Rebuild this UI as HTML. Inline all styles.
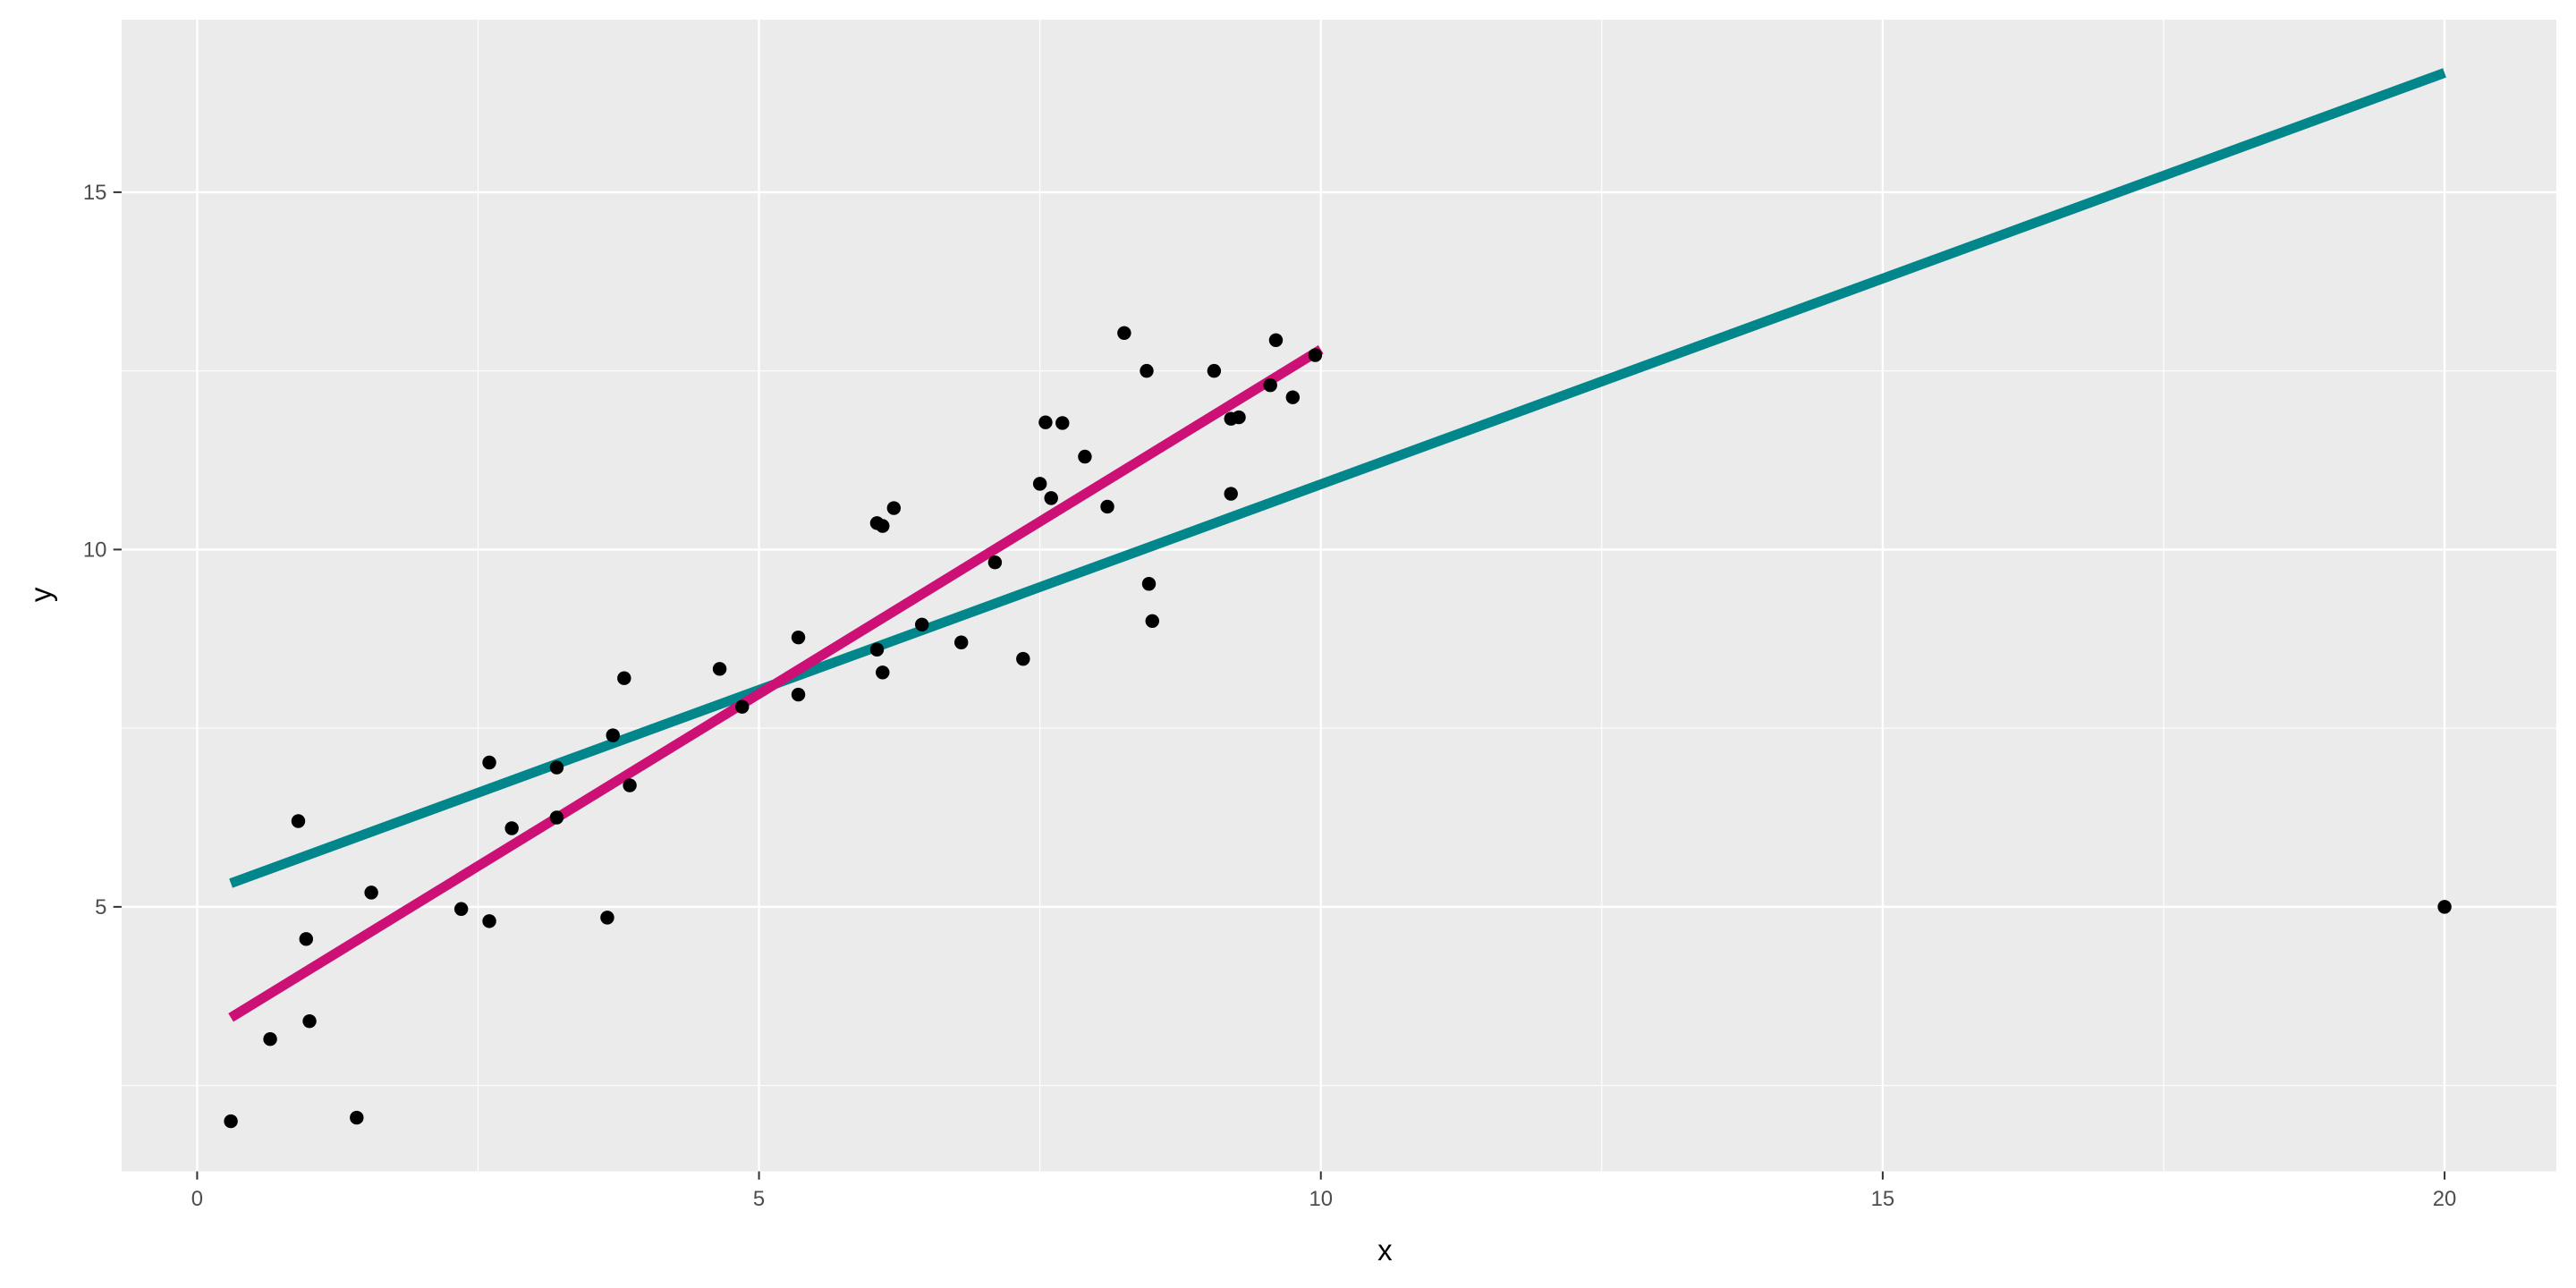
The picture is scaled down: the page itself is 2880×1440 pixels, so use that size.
<!DOCTYPE html>
<html><head><meta charset="utf-8"><style>
html,body{margin:0;padding:0;background:#fff}
svg{display:block}
text{font-family:"Liberation Sans",sans-serif}
</style></head><body>
<svg id="chart" width="2880" height="1440" viewBox="0 0 1568 784" xmlns="http://www.w3.org/2000/svg">
<rect x="74" y="12" width="1482" height="701" fill="#ebebeb"/>
<g id="grid"></g><g id="lines"></g><g id="pts"></g><g id="axes"></g>
<text x="843" y="767" font-size="18" fill="#000" text-anchor="middle">x</text>
<text x="31" y="362" font-size="18" fill="#000" text-anchor="middle" transform="rotate(-90 31 362)">y</text>
</svg>
<script>
const xs=[0.3,0.65,0.9,0.97,1.0,1.42,1.55,2.35,2.6,2.6,2.8,3.2,3.2,3.65,3.7,3.8,3.85,4.65,4.85,5.35,5.35,6.05,6.05,6.1,6.1,6.2,6.45,6.8,7.1,7.35,7.5,7.55,7.6,7.7,7.9,8.1,8.25,8.45,8.47,8.5,9.05,9.2,9.2,9.27,9.55,9.6,9.75,9.95,20];
const ys=[2.0,3.15,6.2,4.55,3.4,2.05,5.2,4.97,4.8,7.02,6.1,6.25,6.95,4.85,7.4,8.2,6.7,8.33,7.8,8.77,7.97,8.6,10.37,8.28,10.33,10.58,8.95,8.7,9.82,8.47,10.92,11.78,10.72,11.77,11.3,10.6,13.03,12.5,9.52,9.0,12.5,10.78,11.83,11.85,12.3,12.93,12.13,12.72,5.0];
const xTicks=[0,5,10,15,20];
const yTicks=[5,10,15];
const tealLine=[[0.3,5.33],[20,16.67]];
const magentaLine=[[0.3,3.45],[10,12.8]];
const NS="http://www.w3.org/2000/svg";
const sx=v=>120+v*68.4, sy=v=>552-(v-5)*43.5;
function mk(parent,tag,attrs){const e=document.createElementNS(NS,tag);for(const k in attrs)e.setAttribute(k,attrs[k]);document.getElementById(parent).appendChild(e);return e;}
const minorX=[2.5,7.5,12.5,17.5], minorY=[2.5,7.5,12.5,17.5];
minorX.forEach(v=>{const e=mk('grid','line',{x1:sx(v),x2:sx(v),y1:12,y2:713,stroke:'#fff','stroke-width':0.6});

});
minorY.filter(v=>sy(v)>12).forEach(v=>{const e=mk('grid','line',{x1:74,x2:1556,y1:sy(v),y2:sy(v),stroke:'#fff','stroke-width':0.6});

});
xTicks.forEach(v=>{const e=mk('grid','line',{x1:sx(v),x2:sx(v),y1:12,y2:713,stroke:'#fff','stroke-width':1.3});


const t=mk('axes','line',{x1:sx(v),x2:sx(v),y1:713,y2:718,stroke:'#333','stroke-width':1.1});


const l=mk('axes','text',{x:sx(v),y:734,'font-size':13,fill:'#4d4d4d','text-anchor':'middle'});l.textContent=v;

});
yTicks.forEach(v=>{const e=mk('grid','line',{x1:74,x2:1556,y1:sy(v),y2:sy(v),stroke:'#fff','stroke-width':1.3});


const t=mk('axes','line',{x1:69,x2:74,y1:sy(v),y2:sy(v),stroke:'#333','stroke-width':1.1});


const l=mk('axes','text',{x:65,y:sy(v)+4.5,'font-size':13,fill:'#4d4d4d','text-anchor':'end'});l.textContent=v;

});
const t1=mk('lines','line',{x1:sx(tealLine[0][0]),y1:sy(tealLine[0][1]),x2:sx(tealLine[1][0]),y2:sy(tealLine[1][1]),stroke:'#00868b','stroke-width':6});


const m1=mk('lines','line',{x1:sx(magentaLine[0][0]),y1:sy(magentaLine[0][1]),x2:sx(magentaLine[1][0]),y2:sy(magentaLine[1][1]),stroke:'#cd1076','stroke-width':6});


xs.forEach((v,i)=>{const c=mk('pts','circle',{cx:sx(v),cy:sy(ys[i]),r:4.2,fill:'#000'});

});
</script>
</body></html>
